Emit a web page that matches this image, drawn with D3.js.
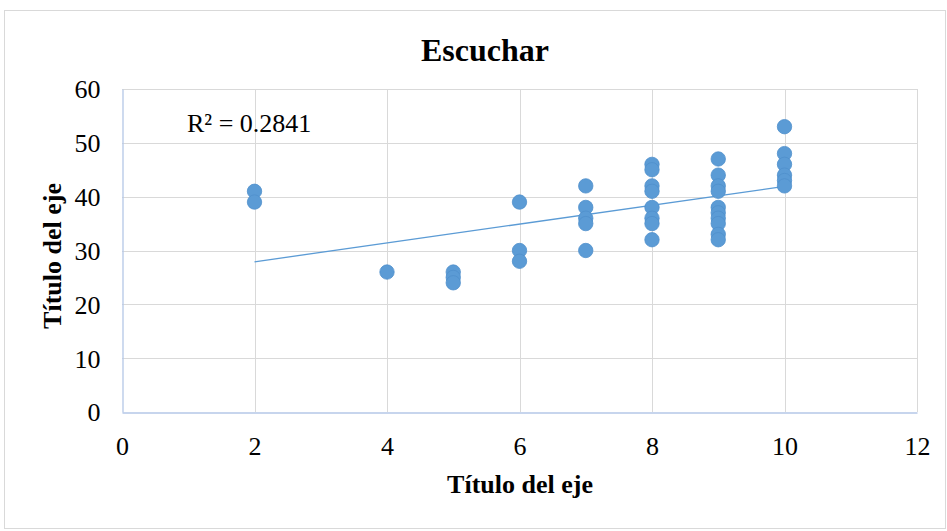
<!DOCTYPE html>
<html>
<head>
<meta charset="utf-8">
<script src="https://cdn.jsdelivr.net/npm/d3@7"></script>
<style>
  body { margin: 0; background: #fff; }
  text { font-family: "Liberation Serif", "Times New Roman", serif; }
</style>
</head>
<body>
<svg id="chart" width="947" height="531"></svg>
<script>
// ---- data ----
const title = "Escuchar";
const xTitle = "Título del eje";
const yTitle = "Título del eje";
const r2Label = "R² = 0.2841";
const xTicks = [0, 2, 4, 6, 8, 10, 12];
const yTicks = [0, 10, 20, 30, 40, 50, 60];
const xValues = [2, 2, 4, 5, 5, 5, 6, 6, 6, 7, 7, 7, 7, 7,
  8, 8, 8, 8, 8, 8, 8, 8,
  9, 9, 9, 9, 9, 9, 9, 9, 9, 9,
  10, 10, 10, 10, 10, 10];
const yValues = [41, 39, 26, 26, 25, 24, 39, 30, 28, 42, 38, 36, 35, 30,
  46, 45, 42, 41, 38, 36, 35, 32,
  47, 44, 42, 41, 38, 37, 36, 35, 33, 32,
  53, 48, 46, 44, 43, 42];

// ---- layout ----
const svg = d3.select("#chart");
const m = { left: 122, right: 917, top: 89, bottom: 412 };

svg.append("rect").attr("x", 4.5).attr("y", 10.5).attr("width", 941).attr("height", 518)
  .attr("fill", "#fff").attr("stroke", "#d9d9d9");

const x = d3.scaleLinear().domain([0, 12]).range([m.left, m.right]);
const y = d3.scaleLinear().domain([0, 60]).range([m.bottom, m.top]);

// gridlines
svg.append("g").selectAll("line").data(xTicks.slice(1)).join("line")
  .attr("x1", d => Math.round(x(d)) + 0.5).attr("x2", d => Math.round(x(d)) + 0.5)
  .attr("y1", m.top).attr("y2", m.bottom)
  .attr("stroke", "#d9d9d9").attr("stroke-width", 1);
svg.append("g").selectAll("line").data(yTicks.slice(1)).join("line")
  .attr("y1", d => Math.round(y(d)) + 0.5).attr("y2", d => Math.round(y(d)) + 0.5)
  .attr("x1", m.left).attr("x2", m.right)
  .attr("stroke", "#d9d9d9").attr("stroke-width", 1);

// axes
const xAxis = d3.axisBottom(x).tickValues(xTicks).tickSize(0);
const gx = svg.append("g").attr("transform", `translate(0,${Math.round(y(0)) + 0.5})`).call(xAxis);
gx.select(".domain").attr("stroke", "#b4c7e7").attr("stroke-width", 1.3);
gx.selectAll("text").attr("font-size", 26).attr("fill", "#000")
  .attr("font-family", "Liberation Serif, serif").attr("y", 42).attr("dy", 0);

const yAxis = d3.axisLeft(y).tickValues(yTicks).tickSize(0);
const gy = svg.append("g").attr("transform", `translate(${Math.round(x(0)) + 0.5},0)`).call(yAxis);
gy.select(".domain").attr("stroke", "#b4c7e7").attr("stroke-width", 1.3);
gy.selectAll("text").attr("font-size", 26).attr("fill", "#000")
  .attr("font-family", "Liberation Serif, serif").attr("x", -22).attr("dy", "0.34em");

// trendline (least squares from data)
const n = xValues.length;
const mx = d3.mean(xValues), my = d3.mean(yValues);
let sxy = 0, sxx = 0;
for (let i = 0; i < n; i++) { sxy += (xValues[i] - mx) * (yValues[i] - my); sxx += (xValues[i] - mx) ** 2; }
const slope = sxy / sxx, icpt = my - slope * mx;
const xMin = d3.min(xValues), xMax = d3.max(xValues);
svg.append("line")
  .attr("x1", x(xMin)).attr("y1", y(icpt + slope * xMin))
  .attr("x2", x(xMax)).attr("y2", y(icpt + slope * xMax))
  .attr("stroke", "#5b9bd5").attr("stroke-width", 1.3);

// points
const pts = xValues.map((v, i) => ({ x: v, y: yValues[i] }));
svg.append("g").selectAll("circle").data(pts).join("circle")
  .attr("cx", d => x(d.x)).attr("cy", d => y(d.y)).attr("r", 7.2)
  .attr("fill", "#5b9bd5").attr("stroke", "#4f8fcb").attr("stroke-width", 0.8);

// texts
svg.append("text").attr("x", 485).attr("y", 61).attr("text-anchor", "middle")
  .attr("font-size", 32).attr("font-weight", "bold").text(title);
svg.append("text").attr("x", 520).attr("y", 493).attr("text-anchor", "middle")
  .attr("font-size", 26).attr("font-weight", "bold").text(xTitle);
svg.append("text").attr("transform", "translate(61,256) rotate(-90)").attr("text-anchor", "middle")
  .attr("font-size", 26).attr("font-weight", "bold").text(yTitle);
svg.append("text").attr("x", 187).attr("y", 132).attr("font-size", 26).text(r2Label);
</script>
</body>
</html>
